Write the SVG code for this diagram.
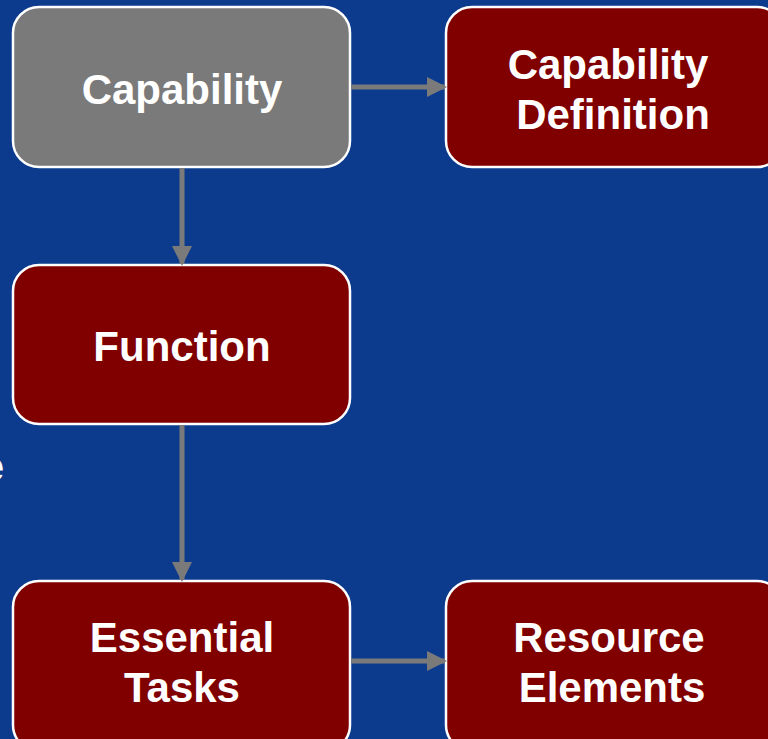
<svg xmlns="http://www.w3.org/2000/svg" width="768" height="739" viewBox="0 0 768 739">
<defs>
<style>
.box{stroke:#ffffff;stroke-width:2.5}
.red{fill:#800000}
.gray{fill:#7a7a7a}
.t{font-family:"Liberation Sans",Arial,sans-serif;font-weight:bold;font-size:42px;fill:#ffffff;text-anchor:middle}
.c{stroke:#7a7a7a;stroke-width:5;fill:none}
</style>
<marker id="ah" markerWidth="4" markerHeight="4" refX="3.6" refY="2" orient="auto" markerUnits="strokeWidth">
<path d="M0,0 L4,2 L0,4 Z" fill="#7a7a7a"/>
</marker>
</defs>
<rect width="768" height="739" fill="#0c3b8e"/>
<text class="t" x="4" y="481" style="text-anchor:end">e</text>
<g id="capability">
<rect class="box gray" x="13" y="7" width="337" height="160" rx="26"/>
<text class="t" x="182" y="104">Capability</text>
</g>
<g id="capability-definition">
<rect class="box red" x="446" y="7" width="337" height="160" rx="26"/>
<text class="t" x="608" y="79">Capability</text>
<text class="t" x="613" y="129">Definition</text>
</g>
<g id="function">
<rect class="box red" x="13" y="265" width="337" height="159" rx="26"/>
<text class="t" x="182" y="361">Function</text>
</g>
<g id="essential-tasks">
<rect class="box red" x="13" y="581" width="337" height="170" rx="26"/>
<text class="t" x="182" y="652">Essential</text>
<text class="t" x="182" y="702">Tasks</text>
</g>
<g id="resource-elements">
<rect class="box red" x="446" y="581" width="337" height="170" rx="26"/>
<text class="t" x="609" y="652">Resource</text>
<text class="t" x="612" y="702">Elements</text>
</g>
<g id="connectors">
<line class="c" x1="351" y1="87" x2="445" y2="87" marker-end="url(#ah)"/>
<line class="c" x1="182" y1="168" x2="182" y2="264" marker-end="url(#ah)"/>
<line class="c" x1="182" y1="425" x2="182" y2="580" marker-end="url(#ah)"/>
<line class="c" x1="351" y1="661" x2="445" y2="661" marker-end="url(#ah)"/>
</g>
</svg>
